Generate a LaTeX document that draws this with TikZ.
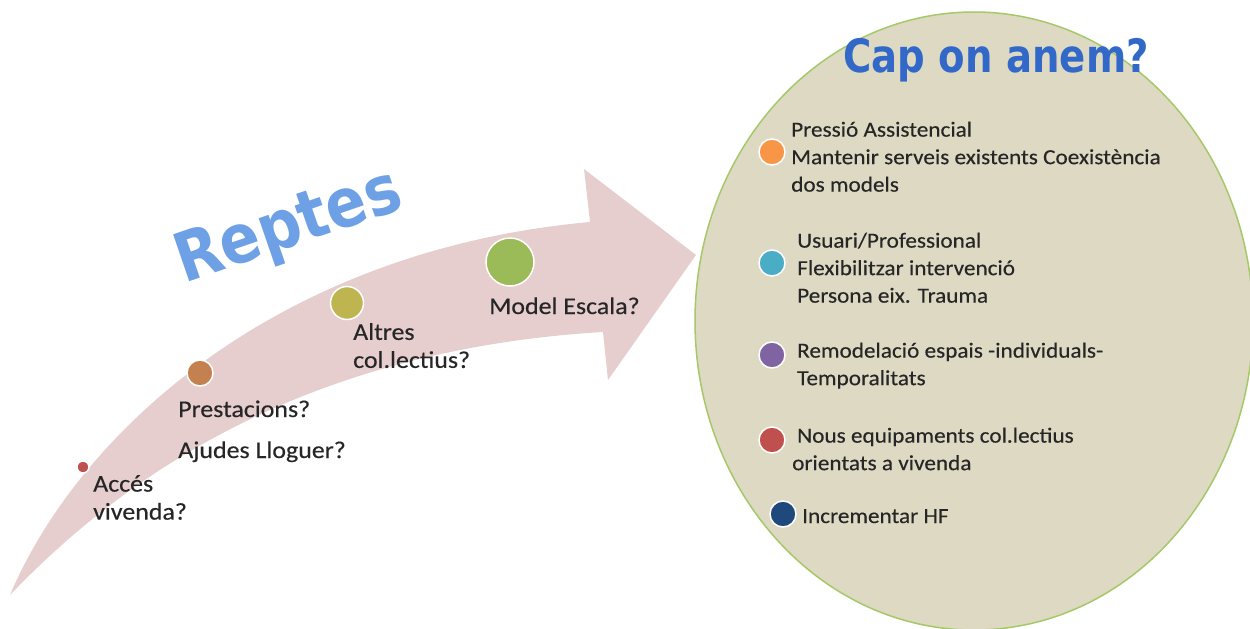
\documentclass[tikz,border=0pt]{standalone}
\usepackage{fontspec}
\setmainfont[FakeStretch=1.08, FakeBold=0.3]{Carlito}
\newfontfamily\titlefont[FakeStretch=0.84]{DejaVu Sans Bold}
\newfontfamily\reptesfont[FakeStretch=0.88]{DejaVu Sans Bold}
\usepackage{tikz}

\definecolor{arrowpink}{RGB}{230,205,206}
\definecolor{ovalfill}{RGB}{221,217,195}
\definecolor{ovalline}{RGB}{165,200,105}
\definecolor{titleblue}{RGB}{50,105,200}
\definecolor{reptesblue}{RGB}{110,160,230}
\definecolor{dotred}{RGB}{192,80,77}
\definecolor{dotbrown}{RGB}{196,128,78}
\definecolor{dotolive}{RGB}{190,180,80}
\definecolor{dotgreen}{RGB}{155,187,89}
\definecolor{dotorange}{RGB}{247,150,70}
\definecolor{dotcyan}{RGB}{75,172,198}
\definecolor{dotpurple}{RGB}{128,100,162}
\definecolor{dotnavy}{RGB}{31,73,125}

\tikzset{
    dot/.style={circle, draw=white, line width=1.5pt, inner sep=0pt},
    lefttext/.style={inner sep=0pt, align=left, text=black!85,
        font=\fontsize{24}{28}\selectfont},
    righttext/.style={inner sep=0pt, align=left, text=black!85,
        font=\fontsize{21.5}{27.5}\selectfont}
}

\begin{document}
\begin{tikzpicture}[x=1pt, y=-1pt]
        \useasboundingbox (0, 0) rectangle (1250, 629);

        % curved arrow
        \fill [arrowpink] (10, 595) .. controls (80, 430) and (280, 250) .. (590, 222)
            -- (584, 169) -- (696, 255) -- (608, 380) -- (603, 332)
            .. controls (300, 350) and (120, 480) .. (10, 595) -- cycle;

        \node [dot, fill=dotred, minimum size=12] (acces) at (83, 467) {};
        \node [dot, fill=dotbrown, minimum size=26] (prest) at (200, 373) {};
        \node [dot, fill=dotolive, minimum size=33] (altres) at (347, 303) {};
        \node [dot, fill=dotgreen, minimum size=48] (model) at (510, 262) {};

        \node [lefttext, anchor=north west] (accest) at (93, 475) {Accés\\vivenda?};
        \node [lefttext, anchor=base west] (prestt) at (178, 417) {Prestacions?};
        \node [lefttext, anchor=base west] (ajudest) at (178, 458) {Ajudes Lloguer?};
        \node [lefttext, anchor=north west] (altrest) at (353, 323) {Altres\\col.lectius?};
        \node [lefttext, anchor=base west] (modelt) at (489, 314) {Model Escala?};

        \node [rotate=19, anchor=base west, inner sep=0pt, text=reptesblue,
            font=\reptesfont\fontsize{68}{68}\selectfont] (reptes) at (184, 284) {Reptes};

        % oval
        \draw [ovalline, fill=ovalfill, line width=1.5pt] (974, 321) ellipse [x radius=279, y radius=309];

        \node [anchor=base west, inner sep=0pt, text=titleblue,
            font=\titlefont\fontsize{46}{46}\selectfont] (title) at (843, 72) {Cap on anem?};

        \node [dot, fill=dotorange, minimum size=26] (press) at (772, 152) {};
        \node [dot, fill=dotcyan, minimum size=26] (usuari) at (772, 263) {};
        \node [dot, fill=dotpurple, minimum size=26] (remod) at (772, 355) {};
        \node [dot, fill=dotred, minimum size=26] (nous) at (772, 440) {};
        \node [dot, fill=dotnavy, minimum size=26] (incr) at (783, 514) {};

        \node [righttext, anchor=north west] (presst) at (791, 121.5)
            {Pressió Assistencial\\Mantenir serveis existents Coexistència\\dos models};
        \node [righttext, anchor=north west] (usuarit) at (797, 232.5)
            {Usuari/Professional\\Flexibilitzar intervenció\\Persona eix. Trauma};
        \node [righttext, anchor=north west] (remodt) at (797, 342.5)
            {Remodelació espais -individuals-\\Temporalitats};
        \node [righttext, anchor=north west] (noust) at (792, 427.5)
            {\hspace{5pt}Nous equipaments col.lectius\\orientats a vivenda};
        \node [righttext, anchor=base west] (incrt) at (802, 523) {Incrementar HF};
    \end{tikzpicture}
\end{document}
